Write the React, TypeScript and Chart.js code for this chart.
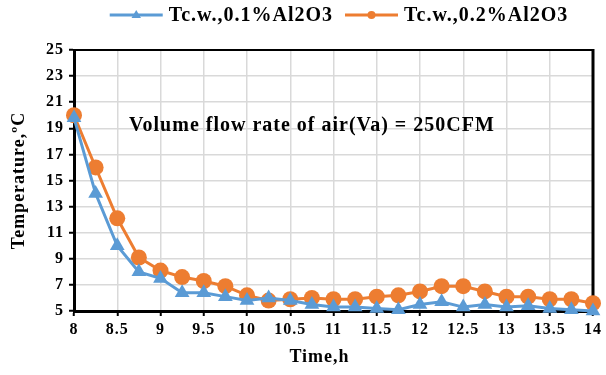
import React, { useEffect, useRef } from "react";
import { Chart, registerables } from "chart.js";

Chart.register(...registerables);

const timeH = [8, 8.25, 8.5, 8.75, 9, 9.25, 9.5, 9.75, 10, 10.25, 10.5, 10.75, 11, 11.25, 11.5, 11.75, 12, 12.25, 12.5, 12.75, 13, 13.25, 13.5, 13.75, 14];
const tc01 = [19.8, 14.0, 10.0, 8.0, 7.5, 6.4, 6.4, 6.1, 5.8, 6.0, 5.8, 5.5, 5.3, 5.3, 5.2, 5.1, 5.5, 5.7, 5.3, 5.5, 5.3, 5.4, 5.2, 5.1, 5.0];
const tc02 = [20.0, 16.0, 12.1, 9.1, 8.1, 7.6, 7.3, 6.9, 6.2, 5.8, 5.9, 6.0, 5.9, 5.9, 6.1, 6.2, 6.5, 6.9, 6.9, 6.5, 6.1, 6.1, 5.9, 5.9, 5.6];
const xTicks = [8, 8.5, 9, 9.5, 10, 10.5, 11, 11.5, 12, 12.5, 13, 13.5, 14];
const yTicks = [5, 7, 9, 11, 13, 15, 17, 19, 21, 23, 25];
const seriesNames = ["Tc.w.,0.1%Al2O3", "Tc.w.,0.2%Al2O3"];
const annotationText = "Volume flow rate of air(Va) = 250CFM";
const annotationPos = { x: 10.75, y: 19.2 };
const xTitle = "Time,h";
const yTitle = "Temperature,ºC";

const BLUE = "#5B9BD5";
const ORANGE = "#ED7D31";
const FONT = "'Liberation Serif', 'Times New Roman', serif";
const SPACING = "1px";

function setSpacing(chart: any) {
  try {
    (chart.ctx as any).letterSpacing = SPACING;
  } catch (e) {}
}

const spacingPlugin = {
  id: "spacing",
  beforeInit: setSpacing,
  beforeUpdate: setSpacing,
  beforeLayout: setSpacing,
  beforeDraw: setSpacing,
};

function drawTriangle(ctx: CanvasRenderingContext2D, x: number, y: number, r: number) {
  ctx.beginPath();
  ctx.moveTo(x, y - r);
  ctx.lineTo(x + r * 0.95, y + r * 0.6);
  ctx.lineTo(x - r * 0.95, y + r * 0.6);
  ctx.closePath();
  ctx.fill();
}

const extrasPlugin = {
  id: "extras",
  beforeDatasetsDraw(chart: any) {
    const { ctx, chartArea } = chart;
    ctx.save();
    ctx.strokeStyle = "#000";
    ctx.lineWidth = 2;
    ctx.beginPath();
    ctx.moveTo(chartArea.left, chartArea.top);
    ctx.lineTo(chartArea.right, chartArea.top);
    ctx.stroke();
    ctx.lineWidth = 3;
    ctx.beginPath();
    ctx.moveTo(chartArea.right, chartArea.top - 1);
    ctx.lineTo(chartArea.right, chartArea.bottom);
    ctx.stroke();
    ctx.restore();
  },
  afterDraw(chart: any) {
    const { ctx, chartArea, scales } = chart;
    ctx.save();
    (ctx as any).letterSpacing = SPACING;
    // annotation
    ctx.fillStyle = "#000";
    ctx.font = `bold 20px ${FONT}`;
    ctx.textAlign = "center";
    ctx.textBaseline = "middle";
    ctx.fillText(annotationText, scales.x.getPixelForValue(annotationPos.x), scales.y.getPixelForValue(annotationPos.y));

    // x-axis title
    ctx.font = `bold 18px ${FONT}`;
    ctx.fillText(xTitle, (chartArea.left + chartArea.right) / 2 - 14, 357);

    // legend
    (ctx as any).letterSpacing = "1px";
    ctx.font = `bold 20px ${FONT}`;
    const lineW = 53;
    const gap = 6;
    const itemGap = 12;
    const w0 = ctx.measureText(seriesNames[0]).width;
    const w1 = ctx.measureText(seriesNames[1]).width;
    const total = lineW + gap + w0 + itemGap + lineW + gap + w1;
    const cx = 339;
    let x = cx - total / 2;
    const y = 15;
    const colors = [BLUE, ORANGE];
    const widths = [w0, w1];
    for (let i = 0; i < 2; i++) {
      ctx.strokeStyle = colors[i];
      ctx.fillStyle = colors[i];
      ctx.lineWidth = 3;
      ctx.beginPath();
      ctx.moveTo(x, y);
      ctx.lineTo(x + lineW, y);
      ctx.stroke();
      if (i === 0) {
        drawTriangle(ctx, x + lineW / 2, y, 5);
      } else {
        ctx.beginPath();
        ctx.arc(x + lineW / 2, y, 4, 0, Math.PI * 2);
        ctx.fill();
      }
      ctx.fillStyle = "#000";
      ctx.textAlign = "left";
      ctx.fillText(seriesNames[i], x + lineW + gap, y + 1);
      x += lineW + gap + widths[i] + itemGap;
    }
    ctx.restore();
  },
};

export default function App() {
  const ref = useRef<HTMLCanvasElement | null>(null);
  useEffect(() => {
    document.body.style.margin = "0";
    const canvas = ref.current!;
    const chart = new Chart(canvas, {
      type: "line",
      data: {
        datasets: [
          {
            label: seriesNames[0],
            data: timeH.map((t, i) => ({ x: t, y: tc01[i] })),
            borderColor: BLUE,
            backgroundColor: BLUE,
            borderWidth: 3,
            pointStyle: "triangle",
            pointRadius: 8.5,
            pointHoverRadius: 8.5,
            pointBorderWidth: 0,
            tension: 0,
            clip: false as any,
          },
          {
            label: seriesNames[1],
            data: timeH.map((t, i) => ({ x: t, y: tc02[i] })),
            borderColor: ORANGE,
            backgroundColor: ORANGE,
            borderWidth: 3,
            pointStyle: "circle",
            pointRadius: 8,
            pointHoverRadius: 8,
            pointBorderWidth: 0,
            tension: 0,
            clip: false as any,
          },
        ],
      },
      options: {
        animation: false,
        responsive: false,
        maintainAspectRatio: false,
        layout: { padding: { top: 50, right: 8, left: 0, bottom: 0 } },
        plugins: {
          legend: { display: false },
          tooltip: { enabled: false },
        },
        scales: {
          x: {
            type: "linear",
            min: 8,
            max: 14,
            afterBuildTicks: (s: any) => {
              s.ticks = xTicks.map((v) => ({ value: v }));
            },
            afterFit: (s: any) => {
              s.height = 64;
            },
            ticks: {
              color: "#000",
              font: { family: FONT, size: 16, weight: "bold" },
              padding: 4,
              maxRotation: 0,
              autoSkip: false,
              callback: (v: any) => String(v),
            },
            grid: { color: "#d9d9d9", lineWidth: 1.5, tickColor: "#000", tickLength: 5, tickWidth: 2 },
            border: { color: "#000", width: 3 },
            title: { display: false },
          },
          y: {
            type: "linear",
            min: 5,
            max: 25,
            afterBuildTicks: (s: any) => {
              s.ticks = yTicks.map((v) => ({ value: v }));
            },
            afterFit: (s: any) => {
              s.width = 74;
            },
            ticks: {
              color: "#000",
              font: { family: FONT, size: 16, weight: "bold" },
              padding: 5,
              autoSkip: false,
              callback: (v: any) => String(v),
            },
            grid: { color: "#d9d9d9", lineWidth: 1.5, tickColor: "#000", tickLength: 5, tickWidth: 2 },
            border: { color: "#000", width: 3 },
            title: {
              display: true,
              text: yTitle,
              color: "#000",
              font: { family: FONT, size: 18, weight: "bold" },
              padding: { top: 9, bottom: 2 },
            },
          },
        },
      },
      plugins: [spacingPlugin, extrasPlugin],
    });
    return () => chart.destroy();
  }, []);
  return (
    <div style={{ width: 606, height: 375, overflow: "hidden" }}>
      <canvas ref={ref} width={606} height={375} style={{ display: "block" }} />
    </div>
  );
}
